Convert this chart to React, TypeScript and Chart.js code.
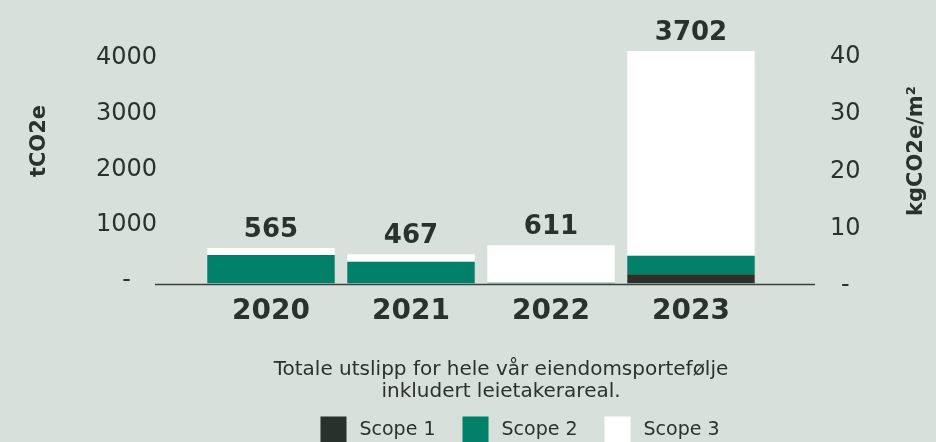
import React, { useEffect, useRef } from "react";
import { Chart, registerables } from "chart.js";

Chart.register(...registerables);

const categories = ["2020", "2021", "2022", "2023"];
const scope1 = [0, 0, 0, 146];
const scope2 = [454, 347, 10, 296];
const scope3 = [111, 120, 601, 3260];
const totals = [565, 467, 611, 3702];
const leftTicks = [0, 1000, 2000, 3000, 4000];
const rightTicks = [0, 10, 20, 30, 40];
const seriesNames = ["Scope 1", "Scope 2", "Scope 3"];
const caption = ["Totale utslipp for hele vår eiendomsportefølje", "inkludert leietakerareal."];
const leftTitle = "tCO2e";
const rightTitle = "kgCO2e/m²";

const BG = "#d7e0db";
const TEXT = "#2a322d";
const COLORS = ["#28312b", "#007f69", "#ffffff"];
const FONT = "'DejaVu Sans', sans-serif";

const overlay = {
  id: "overlay",
  afterDraw(chart: any) {
    const { ctx, chartArea } = chart;
    const xs = chart.scales.x;
    const ys = chart.scales.y;
    ctx.save();
    // baseline
    ctx.strokeStyle = "#3a413c";
    ctx.lineWidth = 1.5;
    ctx.beginPath();
    ctx.moveTo(chartArea.left - 46, chartArea.bottom + 1);
    ctx.lineTo(chartArea.right + 54, chartArea.bottom + 1);
    ctx.stroke();

    // totals
    ctx.fillStyle = TEXT;
    ctx.font = `bold 26px ${FONT}`;
    ctx.textAlign = "center";
    ctx.textBaseline = "alphabetic";
    totals.forEach((t, i) => {
      const x = xs.getPixelForValue(i);
      const y = ys.getPixelForValue(t);
      ctx.fillText(String(t), x, y - 11);
    });

    // axis titles
    ctx.font = `bold 21px ${FONT}`;
    ctx.textBaseline = "middle";
    ctx.save();
    ctx.translate(chartArea.left - 161, chartArea.top + 90);
    ctx.rotate(-Math.PI / 2);
    ctx.fillText(leftTitle, 0, 0);
    ctx.restore();
    ctx.save();
    ctx.translate(chartArea.right + 156, chartArea.top + 100);
    ctx.rotate(-Math.PI / 2);
    ctx.fillText(rightTitle, 0, 0);
    ctx.restore();

    // caption
    const mid = (chartArea.left + chartArea.right) / 2;
    ctx.font = `20px ${FONT}`;
    ctx.textBaseline = "alphabetic";
    caption.forEach((line, i) => {
      ctx.fillText(line, mid + 20, chartArea.bottom + 91 + i * 22);
    });

    // legend
    ctx.font = `19px ${FONT}`;
    ctx.textAlign = "left";
    ctx.textBaseline = "middle";
    const box = 26;
    const gapText = 13;
    const gapItem = 27;
    const widths = seriesNames.map((n) => box + gapText + ctx.measureText(n).width);
    const total = widths.reduce((a, b) => a + b, 0) + gapItem * (widths.length - 1);
    let lx = mid + 39 - total / 2;
    const ly = chartArea.bottom + 133;
    seriesNames.forEach((n, i) => {
      ctx.fillStyle = COLORS[i];
      ctx.fillRect(lx, ly, box, box);
      ctx.fillStyle = TEXT;
      ctx.fillText(n, lx + box + gapText, ly + 14);
      lx += widths[i] + gapItem;
    });
    ctx.restore();
  },
};

export default function App() {
  const ref = useRef<HTMLCanvasElement>(null);
  useEffect(() => {
    if (!ref.current) return;
    const chart = new Chart(ref.current, {
      type: "bar",
      data: {
        labels: categories,
        datasets: [scope1, scope2, scope3].map((d, i) => ({
          label: seriesNames[i],
          data: d,
          backgroundColor: COLORS[i],
          borderWidth: 0,
          barPercentage: 0.91,
          categoryPercentage: 1,
          yAxisID: "y",
        })),
      },
      options: {
        animation: false,
        responsive: false,
        devicePixelRatio: 1,
        layout: { padding: { top: 51, left: 0, right: 0, bottom: 0 } },
        plugins: { legend: { display: false }, tooltip: { enabled: false } },
        scales: {
          x: {
            stacked: true,
            grid: { display: false, drawTicks: false },
            border: { display: false },
            ticks: { color: TEXT, font: { family: FONT, size: 28, weight: "bold" }, padding: 11 },
            afterFit: (s: any) => {
              s.height = 158.5;
              s.paddingLeft = 0;
              s.paddingRight = 0;
            },
          },
          y: {
            stacked: true,
            display: false,
            min: 0,
            max: 3702,
          },
          yL: {
            type: "linear",
            position: "left",
            min: -80.7,
            max: 4089.7,
            grid: { display: false, drawTicks: false },
            border: { display: false },
            afterBuildTicks: (s: any) => {
              s.ticks = leftTicks.map((v) => ({ value: v }));
            },
            ticks: {
              color: TEXT,
              font: { family: FONT, size: 24 },
              crossAlign: "center",
              padding: 44,
              labelOffset: 2,
              callback: (v: any) => (v === 0 ? "-" : String(v)),
            },
            afterFit: (s: any) => {
              s.width = 201;
              s.paddingTop = 0;
              s.paddingBottom = 0;
            },
          },
          yR: {
            type: "linear",
            position: "right",
            min: -0.09,
            max: 40.52,
            grid: { display: false, drawTicks: false },
            border: { display: false },
            afterBuildTicks: (s: any) => {
              s.ticks = rightTicks.map((v) => ({ value: v }));
            },
            ticks: {
              color: TEXT,
              font: { family: FONT, size: 24 },
              crossAlign: "center",
              padding: 69,
              labelOffset: 3,
              callback: (v: any) => (v === 0 ? "-" : String(v)),
            },
            afterFit: (s: any) => {
              s.width = 175;
              s.paddingTop = 0;
              s.paddingBottom = 0;
            },
          },
        },
      },
      plugins: [overlay],
    });
    return () => chart.destroy();
  }, []);
  return (
    <div style={{ position: "fixed", left: 0, top: 0, width: 936, height: 442, background: BG }}>
      <canvas ref={ref} width={936} height={442} style={{ display: "block" }} />
    </div>
  );
}
